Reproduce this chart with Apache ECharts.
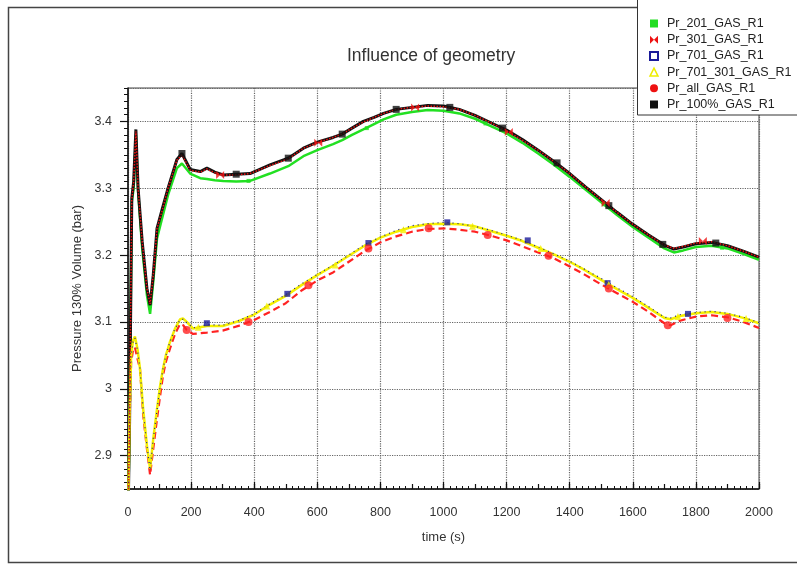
<!DOCTYPE html>
<html>
<head>
<meta charset="utf-8">
<title>Influence of geometry</title>
<script src="https://cdn.jsdelivr.net/npm/echarts@6/dist/echarts.min.js"></script>
<style>
  html, body { margin: 0; padding: 0; background: #fff; }
  #chart { width: 797px; height: 568px; }
</style>
</head>
<body>
<div id="chart"></div>
<script>
// time axis (s) for the upper curves
const upperTime = [0, 5, 12, 18, 25, 32, 45, 60, 70, 80,
  92, 108, 127, 155, 171, 197, 229, 250, 275, 302,
  343, 387, 450, 508, 556, 600, 650, 679, 710, 746,
  780, 810, 850, 900, 950, 1000, 1050, 1100, 1150, 1200,
  1250, 1300, 1350, 1400, 1450, 1500, 1550, 1600, 1650, 1700,
  1730, 1760, 1800, 1850, 1900, 1950, 2000]

const pr201 = [2.80, 2.95, 3.28, 3.30, 3.38, 3.295, 3.21, 3.14, 3.112, 3.16,
  3.225, 3.255, 3.29, 3.33, 3.337, 3.322, 3.315, 3.314, 3.312, 3.311,
  3.31, 3.311, 3.322, 3.333, 3.348, 3.357, 3.366, 3.372, 3.38, 3.388,
  3.396, 3.403, 3.41, 3.414, 3.417, 3.416, 3.412, 3.404, 3.393, 3.382,
  3.368, 3.352, 3.335, 3.317, 3.298, 3.279, 3.26, 3.242, 3.226, 3.21,
  3.204, 3.207, 3.212, 3.214, 3.21, 3.202, 3.193]

const pr301 = [2.80, 2.95, 3.283, 3.31, 3.385, 3.30, 3.22, 3.15, 3.127, 3.17,
  3.24, 3.266, 3.30, 3.342, 3.35, 3.327, 3.324, 3.329, 3.323, 3.32,
  3.32, 3.322, 3.334, 3.344, 3.36, 3.368, 3.376, 3.381, 3.39, 3.399,
  3.406, 3.412, 3.418, 3.421, 3.423, 3.422, 3.418, 3.409, 3.398, 3.386,
  3.372, 3.357, 3.34, 3.322, 3.302, 3.283, 3.264, 3.246, 3.23, 3.215,
  3.21, 3.213, 3.218, 3.22, 3.214, 3.206, 3.197]

const pr100 = [2.80, 2.95, 3.285, 3.31, 3.388, 3.30, 3.22, 3.15, 3.125, 3.17,
  3.24, 3.268, 3.30, 3.343, 3.352, 3.328, 3.325, 3.33, 3.324, 3.32,
  3.321, 3.322, 3.335, 3.345, 3.36, 3.369, 3.376, 3.381, 3.39, 3.40,
  3.406, 3.412, 3.418, 3.421, 3.424, 3.423, 3.418, 3.409, 3.398, 3.387,
  3.373, 3.357, 3.34, 3.322, 3.302, 3.283, 3.264, 3.246, 3.23, 3.215,
  3.209, 3.212, 3.217, 3.219, 3.214, 3.206, 3.197]

// time axis (s) for the lower curves
const lowerTime = [0, 5, 10, 16, 22, 30, 38, 48, 60, 70,
  80, 92, 102, 111, 120, 133, 149, 165, 175, 186,
  206, 250, 300, 350, 400, 450, 500, 550, 600, 650,
  700, 750, 800, 850, 900, 950, 1000, 1050, 1100, 1150,
  1200, 1250, 1300, 1350, 1400, 1450, 1500, 1550, 1600, 1650,
  1700, 1720, 1750, 1800, 1850, 1900, 1950, 2000]

const pr701 = [2.80, 2.96, 3.05, 3.07, 3.076, 3.058, 3.03, 2.968, 2.915, 2.878,
  2.925, 2.968, 3.004, 3.03, 3.05, 3.07, 3.09, 3.103, 3.104, 3.099,
  3.091, 3.096, 3.095, 3.102, 3.112, 3.127, 3.141, 3.157, 3.171, 3.185,
  3.2, 3.216, 3.227, 3.237, 3.244, 3.247, 3.249, 3.247, 3.243, 3.237,
  3.23, 3.222, 3.212, 3.202, 3.191, 3.178, 3.165, 3.151, 3.138, 3.123,
  3.107, 3.106, 3.111, 3.114, 3.116, 3.113, 3.107, 3.099]

const pr701301 = [2.80, 2.96, 3.05, 3.072, 3.078, 3.06, 3.03, 2.97, 2.915, 2.88,
  2.925, 2.97, 3.005, 3.03, 3.05, 3.07, 3.09, 3.104, 3.105, 3.1,
  3.09, 3.094, 3.094, 3.101, 3.111, 3.126, 3.139, 3.155, 3.17, 3.184,
  3.199, 3.214, 3.226, 3.235, 3.242, 3.246, 3.247, 3.246, 3.243, 3.236,
  3.229, 3.221, 3.211, 3.201, 3.19, 3.177, 3.163, 3.149, 3.136, 3.121,
  3.106, 3.104, 3.109, 3.113, 3.115, 3.112, 3.106, 3.098]

const prAll = [2.80, 2.95, 3.04, 3.058, 3.062, 3.045, 3.03, 2.961, 2.91, 2.871,
  2.91, 2.955, 2.99, 3.02, 3.04, 3.06, 3.082, 3.097, 3.095, 3.088,
  3.082, 3.084, 3.087, 3.094, 3.103, 3.115, 3.128, 3.147, 3.162, 3.174,
  3.19, 3.206, 3.219, 3.228, 3.235, 3.239, 3.24, 3.238, 3.235, 3.229,
  3.222, 3.213, 3.204, 3.195, 3.183, 3.17, 3.156, 3.143, 3.13, 3.115,
  3.098, 3.095, 3.102, 3.108, 3.11, 3.107, 3.1, 3.091]

// sparse marker points [time, pressure]
const mk201 = [[382, 3.311], [757, 3.39], [1133, 3.397], [1508, 3.276], [1883, 3.211]]
const mk301 = [[292, 3.32], [603, 3.368], [910, 3.421], [1207, 3.384], [1514, 3.278], [1822, 3.221]]
const mk100 = [[171, 3.352], [343, 3.321], [508, 3.345], [679, 3.381], [850, 3.418], [1020, 3.421],
  [1187, 3.39], [1360, 3.338], [1524, 3.274], [1695, 3.216], [1863, 3.218]]
const mk701 = [[250, 3.098], [505, 3.142], [762, 3.218], [1012, 3.249], [1267, 3.222], [1520, 3.158], [1775, 3.112]]
const mk701301 = [[223, 3.092], [440, 3.124], [657, 3.185], [873, 3.238], [1092, 3.243],
  [1308, 3.21], [1524, 3.156], [1743, 3.108], [1959, 3.105]]
const mkAll = [[186, 3.088], [382, 3.1], [572, 3.155], [762, 3.21], [953, 3.24], [1140, 3.23],
  [1333, 3.199], [1524, 3.15], [1711, 3.095], [1900, 3.106]]

const names = ['Pr_201_GAS_R1', 'Pr_301_GAS_R1', 'Pr_701_GAS_R1', 'Pr_701_301_GAS_R1', 'Pr_all_GAS_R1', 'Pr_100%_GAS_R1']

const FONT = '"Liberation Sans", Arial, sans-serif'
const bowtie = 'path://M0,0L5,5L0,10ZM10,0L5,5L10,10Z'

const pairs = (t, v) => t.map((x, i) => [x, v[i]])

const chart = echarts.init(document.getElementById('chart'))

function lineSeries(name, t, v, color, width, type, z) {
  return {
    name, type: 'line', data: pairs(t, v), xAxisIndex: 0, yAxisIndex: 0,
    showSymbol: false, symbol: 'none', animation: false, z,
    lineStyle: { color, width, type },
    itemStyle: { color },
  }
}

function markSeries(name, data, symbol, size, style, z) {
  return {
    name, type: 'scatter', data, symbol, symbolSize: size,
    xAxisIndex: 0, yAxisIndex: 0, animation: false, z,
    itemStyle: style,
  }
}

chart.setOption({
  backgroundColor: '#fff',
  animation: false,
  title: {
    text: 'Influence of geometry',
    left: 342, top: 42,
    textStyle: { fontFamily: FONT, fontSize: 17.5, fontWeight: 'normal', color: '#333' },
  },
  grid: { left: 128, top: 88, right: 38, bottom: 79, show: true, borderColor: '#444', borderWidth: 1 },
  legend: {
    orient: 'vertical', left: 649, top: 17, z: 20,
    itemWidth: 8, itemHeight: 8, itemGap: 3.2, padding: 0,
    textStyle: { fontFamily: FONT, fontSize: 12.5, color: '#222', padding: [0, 0, 0, 4] },
    data: [
      { name: names[0], icon: 'rect', itemStyle: { color: '#22dd22' } },
      { name: names[1], icon: bowtie, itemStyle: { color: '#ee1111' } },
      { name: names[2], icon: 'rect', itemStyle: { color: '#fff', borderColor: '#1a1a99', borderWidth: 2 } },
      { name: names[3], icon: 'triangle', itemStyle: { color: '#fff', borderColor: '#eeee00', borderWidth: 1.5 } },
      { name: names[4], icon: 'circle', itemStyle: { color: '#ee1111' } },
      { name: names[5], icon: 'rect', itemStyle: { color: '#111' } },
    ],
  },
  graphic: [
    { type: 'rect', z: 1, shape: { x: 8.5, y: 7.5, width: 900, height: 555 }, style: { fill: 'none', stroke: '#444', lineWidth: 1.5 } },
    { type: 'rect', z: 15, shape: { x: 637.5, y: -2, width: 200, height: 117 }, style: { fill: '#fff', stroke: '#333', lineWidth: 1 } },
  ],
  xAxis: [
    {
      type: 'value', min: 0, max: 2000, interval: 200,
      name: 'time (s)', nameLocation: 'middle', nameGap: 42,
      nameTextStyle: { fontFamily: FONT, fontSize: 13, color: '#333' },
      axisLine: { show: true, onZero: false, lineStyle: { color: '#111', width: 1.5 } },
      axisTick: { show: true, inside: true, length: 7, lineStyle: { color: '#111', width: 1.2 } },
      minorTick: { show: true, splitNumber: 10, length: 3, lineStyle: { color: '#111', width: 1 } },
      axisLabel: { fontFamily: FONT, fontSize: 12.5, color: '#333', margin: 17, formatter: v => String(v) },
      splitLine: { show: true, lineStyle: { color: '#666', type: 'dotted', width: 1.2 } },
    },
    {
      type: 'value', min: 0, max: 2000, interval: 100, position: 'bottom',
      axisLine: { show: false }, axisLabel: { show: false }, splitLine: { show: false },
      axisTick: { show: true, inside: true, length: 5, lineStyle: { color: '#111', width: 1.2 } },
    },
  ],
  yAxis: [
    {
      type: 'value', min: 2.85, max: 3.45, splitNumber: 6,
      name: 'Pressure 130% Volume (bar)', nameLocation: 'middle', nameGap: 40,
      nameTextStyle: { fontFamily: FONT, fontSize: 13, color: '#333' },
      axisLine: { show: true, onZero: false, lineStyle: { color: '#111', width: 1.5 } },
      axisTick: { show: true, inside: false, length: 8, lineStyle: { color: '#111', width: 1.2 } },
      axisLabel: {
        fontFamily: FONT, fontSize: 12.5, color: '#333', margin: 16,
        showMinLabel: false, showMaxLabel: false,
        formatter: v => String(Math.round(v * 10) / 10),
      },
      splitLine: { show: true, lineStyle: { color: '#666', type: 'dotted', width: 1.2 } },
    },
    {
      type: 'value', min: 2.85, max: 3.45, interval: 0.01, position: 'left',
      axisLine: { show: false }, axisLabel: { show: false }, splitLine: { show: false },
      axisTick: { show: true, inside: false, length: 4, lineStyle: { color: '#111', width: 1 } },
    },
  ],
  series: [
    lineSeries(names[0], upperTime, pr201, '#22e022', 2.5, 'solid', 2),
    lineSeries(names[5], upperTime, pr100, '#111', 3, 'solid', 3),
    lineSeries(names[1], upperTime, pr301, '#ee1111', 1.5, 'dotted', 4),
    lineSeries(names[4], lowerTime, prAll, '#ff2222', 2.2, [7, 4], 2),
    lineSeries(names[3], lowerTime, pr701301, '#f5f000', 2.5, 'solid', 3),
    lineSeries(names[2], lowerTime, pr701, '#1a1a8c', 1.2, [1, 4], 4),
    markSeries(names[0], mk201, 'rect', 4, { color: '#22dd22' }, 5),
    markSeries(names[5], mk100, 'rect', 7, { color: '#111' }, 5),
    markSeries(names[1], mk301, bowtie, 8, { color: '#ee1111' }, 6),
    markSeries(names[2], mk701, 'rect', 6, { color: '#1a1a99' }, 5),
    markSeries(names[3], mk701301, 'triangle', 7, { color: '#f5f000' }, 6),
    markSeries(names[4], mkAll, 'circle', 8, { color: '#ff2222' }, 6),
  ],
})
</script>
</body>
</html>
